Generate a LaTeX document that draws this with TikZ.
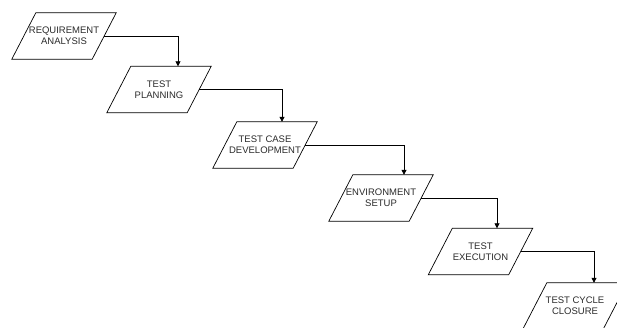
\documentclass[tikz,border=0pt]{standalone}
\usepackage{fontspec}
\setmainfont{Liberation Sans}
\usetikzlibrary{calc,arrows.meta}
\definecolor{txt}{HTML}{2B2B2B}
\tikzset{
  stage/.style={draw=none, minimum width=80pt, minimum height=46pt, inner sep=0pt,
    align=center, font=\fontsize{9.5pt}{11pt}\selectfont, text=txt},
  frame/.style={draw=black, line width=0.7pt, line join=miter},
  flow/.style={draw=black, line width=0.8pt, -{Triangle[length=5pt,width=5pt]}}
}
\begin{document}
\begin{tikzpicture}[x=1pt,y=-1pt]
\clip (0,0) rectangle (617,327);
\useasboundingbox (0,0) rectangle (617,327);
\fill[white] (0,0) rectangle (617,327);

\node[stage] (a) at (64,36)    {REQUIREMENT\\ANALYSIS};
\node[stage] (b) at (159,89.5) {TEST\\PLANNING};
\node[stage] (c) at (265,145)  {TEST CASE\\DEVELOPMENT};
\node[stage] (d) at (381,198)  {ENVIRONMENT\\SETUP};
\node[stage] (e) at (480.5,251.5) {TEST\\EXECUTION};
\node[stage] (f) at (575,306)  {TEST CYCLE\\CLOSURE};

% parallelogram outlines around each stage
\foreach \n in {a,b,c,d,e,f}
  \draw[frame] ($(\n.north west)+(12,0)$) -- ($(\n.north east)+(12,0)$)
    -- ($(\n.south east)+(-12,0)$) -- ($(\n.south west)+(-12,0)$) -- cycle;

\draw[flow] (a.east) -| ([xshift=19]b.north);
\draw[flow] (b.east) -| ([xshift=17]c.north);
\draw[flow] (c.east) -| ([xshift=23]d.north);
\draw[flow] (d.east) -| ([xshift=16.5]e.north);
\draw[flow] (e.east) -| ([xshift=19]f.north);
\end{tikzpicture}
\end{document}
